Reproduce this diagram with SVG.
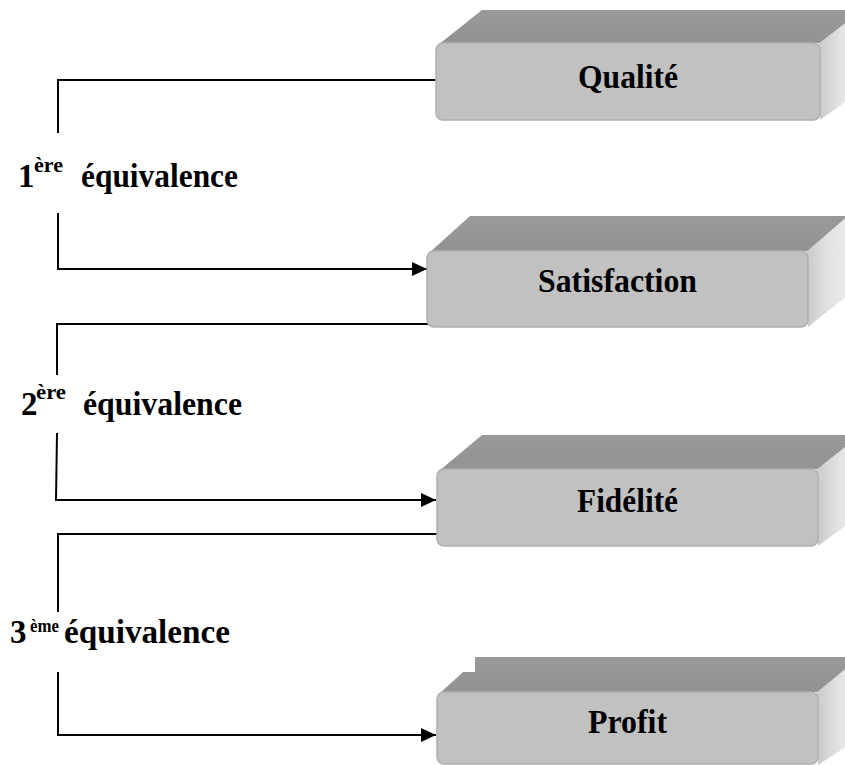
<svg xmlns="http://www.w3.org/2000/svg" width="845" height="765" viewBox="0 0 845 765">
  <defs>
    <linearGradient id="side" x1="0" y1="0" x2="1" y2="0">
      <stop offset="0" stop-color="#c9c9c9"/>
      <stop offset="0.5" stop-color="#e4e4e4"/>
      <stop offset="1" stop-color="#ececec"/>
    </linearGradient>
    <linearGradient id="topg" x1="0" y1="0" x2="0" y2="1">
      <stop offset="0" stop-color="#9a9a9a"/>
      <stop offset="1" stop-color="#929292"/>
    </linearGradient>
    <marker id="arr" markerUnits="userSpaceOnUse" markerWidth="16" markerHeight="15" refX="15" refY="7" orient="auto">
      <path d="M0,0 L15,7 L0,14 Z" fill="#000"/>
    </marker>
    <style>
      .top { fill: url(#topg); }
      .side { fill: url(#side); }
      .front { fill: #c1c1c1; stroke: #b0b0b0; stroke-width: 1.5; }
      .lbl { font-family: "Liberation Serif", "Times New Roman", serif; font-weight: bold; font-size: 33px; fill: #000; }
      .sup { font-family: "Liberation Serif", "Times New Roman", serif; font-weight: bold; font-size: 21px; fill: #000; }
      .conn { fill: none; stroke: #000; stroke-width: 2; }
    </style>
  </defs>
  <rect width="845" height="765" fill="#fff"/>

  <g id="connectors">
    <polyline class="conn" points="437,80 58,80 58,133"/>
    <polyline class="conn" points="58,213 58,269 427,269" marker-end="url(#arr)"/>
    <polyline class="conn" points="428,324 57,324 57,375"/>
    <polyline class="conn" points="57,433 56,500 436,500" marker-end="url(#arr)"/>
    <polyline class="conn" points="438,534 58,534 58,612"/>
    <polyline class="conn" points="58,672 58,735 436,735" marker-end="url(#arr)"/>
  </g>

  <g id="label1">
    <text class="lbl" x="18" y="187">1</text>
    <text class="sup" x="34" y="172" textLength="29" lengthAdjust="spacingAndGlyphs">ère</text>
    <text class="lbl" x="81" y="187" textLength="157" lengthAdjust="spacingAndGlyphs">équivalence</text>
  </g>
  <g id="label2">
    <text class="lbl" x="21" y="415">2</text>
    <text class="sup" x="36" y="399" textLength="30" lengthAdjust="spacingAndGlyphs">ère</text>
    <text class="lbl" x="83" y="415" textLength="159" lengthAdjust="spacingAndGlyphs">équivalence</text>
  </g>
  <g id="label3">
    <text class="lbl" x="10" y="643">3</text>
    <text class="sup" x="30" y="632" style="font-size:18px" textLength="29" lengthAdjust="spacingAndGlyphs">ème</text>
    <text class="lbl" x="64" y="643" textLength="166" lengthAdjust="spacingAndGlyphs">équivalence</text>
  </g>

  <g id="qualite">
    <path class="top" d="M438,45 L482,10 L866,10 L820,43 Z"/>
    <path class="side" d="M818,44 L862,10 L866,10 L866,87 L820,120 Z"/>
    <rect class="front" x="436" y="43" width="384" height="77" rx="7"/>
    <text class="lbl" x="578" y="88" textLength="100" lengthAdjust="spacingAndGlyphs">Qualité</text>
  </g>

  <g id="satisfaction">
    <path class="top" d="M429,253 L470,216 L852,216 L808,251 Z"/>
    <path class="side" d="M806,252 L848,216 L852,216 L852,292 L808,327 Z"/>
    <rect class="front" x="427" y="251" width="381" height="76" rx="7"/>
    <text class="lbl" x="538" y="292" textLength="159" lengthAdjust="spacingAndGlyphs">Satisfaction</text>
  </g>

  <g id="fidelite">
    <path class="top" d="M439,471 L482,435 L864,435 L818,469 Z"/>
    <path class="side" d="M816,470 L860,435 L864,435 L864,512 L818,546 Z"/>
    <rect class="front" x="437" y="469" width="381" height="77" rx="7"/>
    <text class="lbl" x="577" y="512" textLength="101" lengthAdjust="spacingAndGlyphs">Fidélité</text>
  </g>

  <g id="profit">
    <path class="top" d="M439,694 L463,672 L475,672 L475,657 L864,657 L818,692 Z"/>
    <path class="side" d="M816,693 L860,657 L864,657 L864,735 L818,765 Z"/>
    <rect class="front" x="437" y="692" width="381" height="72" rx="7"/>
    <text class="lbl" x="588" y="733" textLength="79" lengthAdjust="spacingAndGlyphs">Profit</text>
  </g>
</svg>
